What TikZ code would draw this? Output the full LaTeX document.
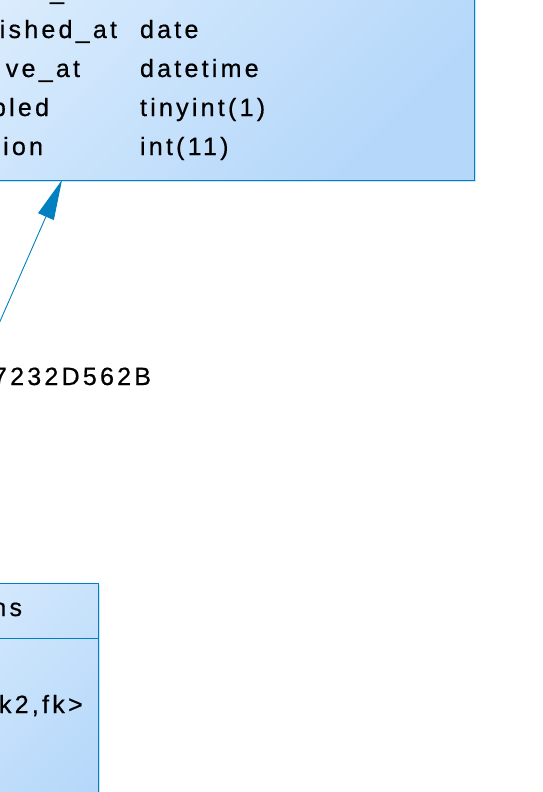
\documentclass[tikz,border=0pt]{standalone}
\usepackage{fontspec}
\setmainfont[LetterSpace=13, FakeBold=0.6]{Liberation Sans}
\usetikzlibrary{positioning,arrows.meta,calc,shadows}

\definecolor{erline}{RGB}{0,128,192}
\definecolor{erlight}{RGB}{222,238,253}
\definecolor{erdark}{RGB}{180,215,250}

\begin{document}
\begin{tikzpicture}[
    x=1pt, y=-1pt,
    every node/.style={font=\fontsize{25}{30}\selectfont, inner sep=0pt, outer sep=0pt},
    table/.style={rectangle, draw=erline, line width=1pt, top color=erlight, bottom color=erdark, shading angle=45,
        general shadow={fill=erdark!70, shadow xshift=2pt, shadow yshift=-2pt}},
    fieldname/.style={anchor=base east},
    fieldtype/.style={anchor=base west},
    fkarrow/.style={draw=erline, line width=0.9pt, -{Triangle[length=40pt, width=17pt, fill=erline]}},
    sepline/.style={draw=erline, line width=1pt}
]
\useasboundingbox (0,0) rectangle (543,792);
\clip (0,0) rectangle (543,792);

% Top table
\node[table, minimum width=600pt, minimum height=230pt, anchor=south east] (versions) at (474,180) {};

\node[fieldtype] (f0name) at (50,-1) {\_};
\node[fieldname] (f1name) at (117,38) {ished\_at};
\node[fieldtype] (f1type) at (140,38) {date};
\node[fieldname] (f2name) at (80,77) {ve\_at};
\node[fieldtype] (f2type) at (140,77) {datetime};
\node[fieldname] (f3name) at (49,116) {bled};
\node[fieldtype] (f3type) at (140,116) {tinyint(1)};
\node[fieldname] (f4name) at (43,155) {ion};
\node[fieldtype] (f4type) at (140,155) {int(11)};

% Foreign key
\coordinate (fksrc) at (-31,392);
\draw[fkarrow] (fksrc) -- ([xshift=-412pt]versions.south east);
\node[fieldtype] (fkname) at (-7,385) {7232D562B};

% Bottom table
\node[table, minimum width=300pt, minimum height=300pt, anchor=north east] (lessons) at (98,583) {};
\draw[sepline] ($(lessons.north west)+(0,55)$) -- ($(lessons.north east)+(0,55)$);

\node[fieldname] (lessonshead) at (22,616) {ns};
\node[fieldtype] (lessonskey) at (-1,713) {k2,fk>};

\end{tikzpicture}
\end{document}
